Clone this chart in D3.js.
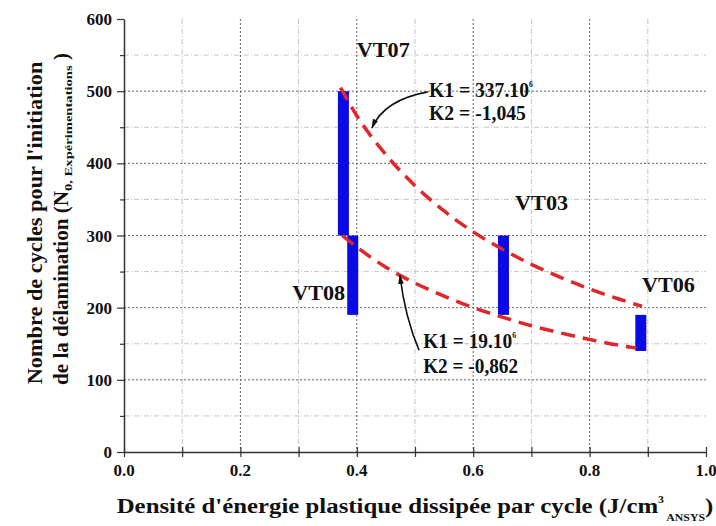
<!DOCTYPE html>
<html><head><meta charset="utf-8">
<script src="https://cdn.jsdelivr.net/npm/d3@7"></script>
<style>
html,body{margin:0;padding:0;background:#fff;}
svg{display:block;}
text{font-family:"Liberation Serif","Times New Roman",serif;font-weight:bold;fill:#111;}
</style></head>
<body>
<div id="chart"></div>
<script>
// ---- data ----
const barNames = ["VT07", "VT08", "VT03", "VT06"];
const barX = [0.377, 0.393, 0.652, 0.888];
const barLow = [300, 190, 190, 140];
const barHigh = [500, 300, 300, 190];

const upperX = [0.372, 0.40, 0.45, 0.50, 0.55, 0.60, 0.65, 0.70, 0.75, 0.80, 0.85, 0.89];
const upperY = [505, 466, 412, 369, 334, 305, 281, 260, 242, 226, 212, 202];
const lowerX = [0.375, 0.40, 0.45, 0.50, 0.55, 0.60, 0.65, 0.70, 0.75, 0.80, 0.85, 0.88];
const lowerY = [300, 284, 256, 234, 216, 200, 187, 175, 165, 156, 148, 144];

const xTicks = [0.0, 0.2, 0.4, 0.6, 0.8, 1.0];
const xTickLabels = ["0.0", "0.2", "0.4", "0.6", "0.8", "1.0"];
const yTicks = [0, 100, 200, 300, 400, 500, 600];
const yTickLabels = ["0", "100", "200", "300", "400", "500", "600"];

// ---- layout ----
const W = 716, H = 526;
const svg = d3.select("#chart").append("svg").attr("width", W).attr("height", H);
svg.append("rect").attr("width", W).attr("height", H).attr("fill", "#fff");

const x = d3.scaleLinear().domain([0, 1]).range([124, 706]);
const y = d3.scaleLinear().domain([0, 600]).range([452, 19]);

// text helper: anchored text, horizontally scaled to a target width
function fitText(tx, ty, rot, anchor, size, target, build) {
  const g = svg.append("g").attr("transform", `translate(${tx},${ty}) rotate(${rot})`);
  const t = g.append("text").attr("text-anchor", anchor).attr("font-size", size);
  build(t);
  const w = t.node().getComputedTextLength();
  if (target && w > 0) t.attr("transform", `scale(${target / w},1)`);
  return t;
}

// grid
const grid = svg.append("g");
const minorX = [0.1, 0.3, 0.5, 0.7, 0.9];
const majorX = [0.2, 0.4, 0.6, 0.8];
const minorY = [50, 150, 250, 350, 450, 550];
const majorY = [100, 200, 300, 400, 500];
grid.selectAll(".mnx").data(minorX).join("line")
  .attr("x1", d => x(d)).attr("x2", d => x(d)).attr("y1", y(600)).attr("y2", y(0))
  .attr("stroke", "#c4c4c4").attr("stroke-width", 1).attr("stroke-dasharray", "5,2,1,2");
grid.selectAll(".mny").data(minorY).join("line")
  .attr("x1", x(0)).attr("x2", x(1)).attr("y1", d => y(d)).attr("y2", d => y(d))
  .attr("stroke", "#c4c4c4").attr("stroke-width", 1).attr("stroke-dasharray", "5,2,1,2");
grid.selectAll(".mjx").data(majorX).join("line")
  .attr("x1", d => x(d)).attr("x2", d => x(d)).attr("y1", y(600)).attr("y2", y(0))
  .attr("stroke", "#666").attr("stroke-width", 1).attr("stroke-dasharray", "2,2");
grid.selectAll(".mjy").data(majorY).join("line")
  .attr("x1", x(0)).attr("x2", x(1)).attr("y1", d => y(d)).attr("y2", d => y(d))
  .attr("stroke", "#666").attr("stroke-width", 1).attr("stroke-dasharray", "2,2");

// bars
const bw = 11;
svg.append("g").selectAll("rect").data(barNames).join("rect")
  .attr("x", (d, i) => x(barX[i]) - bw / 2)
  .attr("width", bw)
  .attr("y", (d, i) => y(barHigh[i]))
  .attr("height", (d, i) => y(barLow[i]) - y(barHigh[i]))
  .attr("fill", "#0a0ae6");

// curves
const line = d3.line().x(d => x(d[0])).y(d => y(d[1])).curve(d3.curveMonotoneX);
const upper = upperX.map((v, i) => [v, upperY[i]]);
const lower = lowerX.map((v, i) => [v, lowerY[i]]);
[upper, lower].forEach(pts => {
  svg.append("path").attr("d", line(pts)).attr("fill", "none")
    .attr("stroke", "#e0262b").attr("stroke-width", 3.5)
    .attr("stroke-dasharray", "14,8");
});

// axes
const xAxis = d3.axisBottom(x).tickValues(d3.range(0, 1.0001, 0.1)).tickSize(0).tickFormat("");
const gx = svg.append("g").attr("transform", `translate(0,${y(0)})`).call(xAxis);
gx.select(".domain").attr("stroke", "#333").attr("stroke-width", 1.5);
gx.selectAll(".tick line").remove();
gx.selectAll(".tick").append("line").attr("y1", -5).attr("y2", 5).attr("stroke", "#333").attr("stroke-width", 1.2);
svg.append("g").selectAll("text").data(xTicks).join("text")
  .attr("x", d => x(d)).attr("y", 476).attr("text-anchor", "middle")
  .attr("font-size", 17).text((d, i) => xTickLabels[i]);

const yAxis = d3.axisLeft(y).tickValues(d3.range(0, 601, 50)).tickSize(0).tickFormat("");
const gy = svg.append("g").attr("transform", `translate(${x(0)},0)`).call(yAxis);
gy.select(".domain").attr("stroke", "#333").attr("stroke-width", 1.5);
gy.selectAll(".tick line").remove();
gy.selectAll(".tick").append("line")
  .attr("x1", d => d % 100 === 0 ? -7 : -4).attr("x2", 0)
  .attr("stroke", "#333").attr("stroke-width", 1.2);
svg.append("g").selectAll("text").data(yTicks).join("text")
  .attr("x", 112).attr("y", d => y(d) + 6).attr("text-anchor", "end")
  .attr("font-size", 17).text((d, i) => yTickLabels[i]);

// axis titles
fitText(415, 513, 0, "middle", 21, 597, t => {
  t.append("tspan").text("Densité d'énergie plastique dissipée par cycle (J/cm");
  t.append("tspan").attr("font-size", 10).attr("dy", -10).text("3");
  t.append("tspan").attr("font-size", 10).attr("dy", 18).text(" ANSYS");
  t.append("tspan").attr("dy", -8).text(")");
});
fitText(42, 223, -90, "middle", 21, 323, t => t.text("Nombre de cycles pour l'initiation"));
fitText(68, 219, -90, "middle", 21, 332, t => {
  t.append("tspan").text("de la délamination (N");
  t.append("tspan").attr("font-size", 10).attr("dy", 4)
    .attr("textLength", 125).attr("lengthAdjust", "spacingAndGlyphs").text("0, Expérimentations");
  t.append("tspan").attr("dy", -4).text(" )");
});

// bar labels
const labX = [0.400, 0.289, 0.672, 0.890];
const labY = [547, 211, 335, 222];
barNames.forEach((name, i) => {
  fitText(x(labX[i]), y(labY[i]), 0, "start", 21, 53, t => t.text(name));
});

// K annotations
function kText(xv, y1, y2, k1, k2, w1, w2) {
  fitText(x(xv), y(y1), 0, "start", 20, w1, t => {
    t.append("tspan").text("K1 = " + k1);
    t.append("tspan").attr("font-size", 8).attr("dy", -10).text("6");
  });
  fitText(x(xv), y(y2), 0, "start", 20, w2, t => t.text("K2 = " + k2));
}
kText(0.524, 492, 460, "337.10", "-1,045", 104, 97);
kText(0.514, 144, 110, "19.10", "-0,862", 93, 95);

// arrows
const defs = svg.append("defs");
defs.append("marker").attr("id", "ah").attr("viewBox", "0 0 12 10").attr("refX", 11).attr("refY", 5)
  .attr("markerWidth", 10).attr("markerHeight", 8).attr("orient", "auto")
  .attr("markerUnits", "userSpaceOnUse")
  .append("path").attr("d", "M0,1.5 L12,5 L0,8.5 z").attr("fill", "#111");
function arrow(p0, c, p1) {
  const p = d3.path();
  p.moveTo(x(p0[0]), y(p0[1]));
  p.quadraticCurveTo(x(c[0]), y(c[1]), x(p1[0]), y(p1[1]));
  svg.append("path").attr("d", p.toString()).attr("fill", "none")
    .attr("stroke", "#111").attr("stroke-width", 1.6).attr("marker-end", "url(#ah)");
}
arrow([0.522, 499], [0.447, 488], [0.426, 449]);
arrow([0.507, 141], [0.483, 186], [0.474, 245]);
</script>
</body></html>
